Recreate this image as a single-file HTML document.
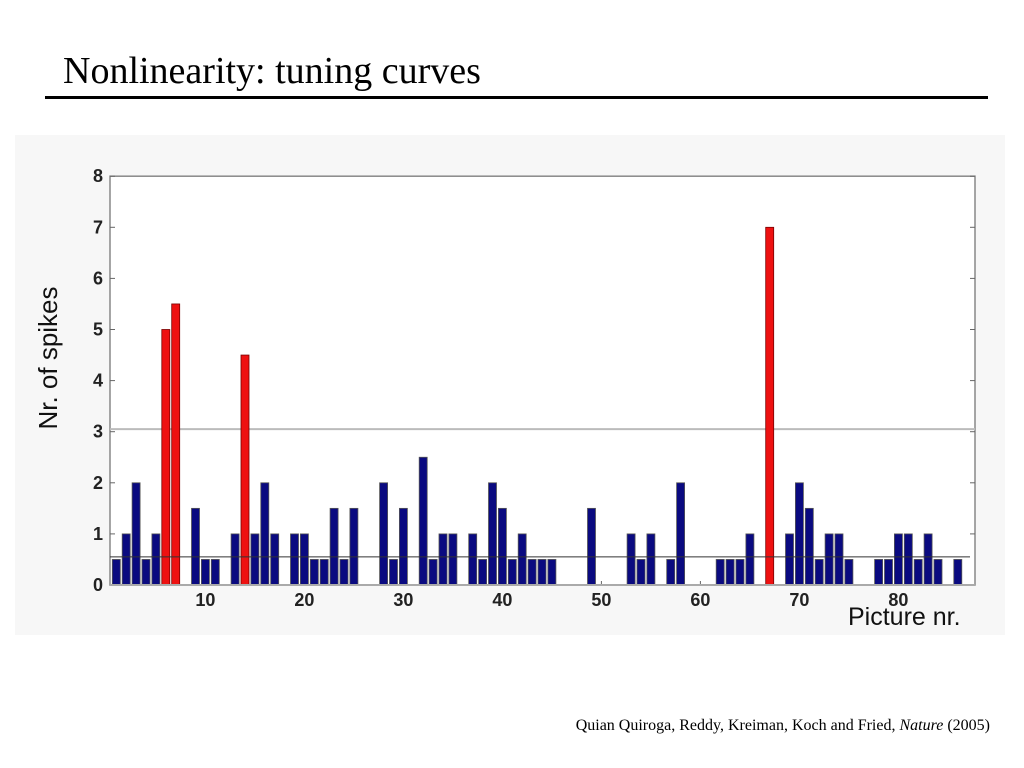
<!DOCTYPE html>
<html><head><meta charset="utf-8"><style>
body{margin:0;width:1024px;height:768px;background:#fff;overflow:hidden;position:relative;font-family:"Liberation Sans",sans-serif}
#title{position:absolute;left:63px;top:49px;font:38px "Liberation Serif",serif;color:#000}
#rule{position:absolute;left:45px;top:96px;width:943px;height:3px;background:#000}
#cite{position:absolute;right:34px;top:717px;font:16px "Liberation Serif",serif;color:#000}
</style></head><body>
<div id="title">Nonlinearity: tuning curves</div>
<div id="rule"></div>
<svg id="chart" width="1024" height="768" style="position:absolute;left:0;top:0"></svg>
<div id="cite">Quian Quiroga, Reddy, Kreiman, Koch and Fried, <i>Nature</i> (2005)</div>
<script>
const pictures=[1,2,3,4,5,6,7,9,10,11,13,14,15,16,17,19,20,21,22,23,24,25,28,29,30,32,33,34,35,37,38,39,40,41,42,43,44,45,49,53,54,55,57,58,62,63,64,65,67,69,70,71,72,73,74,75,78,79,80,81,82,83,84,86];
const spikes=[0.5,1,2,0.5,1,5,5.5,1.5,0.5,0.5,1,4.5,1,2,1,1,1,0.5,0.5,1.5,0.5,1.5,2,0.5,1.5,2.5,0.5,1,1,1,0.5,2,1.5,0.5,1,0.5,0.5,0.5,1.5,1,0.5,1,0.5,2,0.5,0.5,0.5,1,7,1,2,1.5,0.5,1,1,0.5,0.5,0.5,1,1,0.5,1,0.5,0.5];
const responsive=[6,7,14,67];
const yTicks=[0,1,2,3,4,5,6,7,8];
const xTicks=[10,20,30,40,50,60,70,80];
const threshold=3.05, meanLine=0.55;
const NS="http://www.w3.org/2000/svg", svg=document.getElementById('chart');
const X=v=>106.4+v*9.9, Y=v=>585-v*51.1;
function mk(t,a,p){const e=document.createElementNS(NS,t);for(const k in a)e.setAttribute(k,a[k]);(p||svg).appendChild(e);return e;}
const bg=mk('rect',{x:15,y:135,width:990,height:500,fill:'#f7f7f7'});


const plot=mk('rect',{x:110,y:Y(8),width:865,height:Y(0)-Y(8),fill:'#fff',stroke:'#888','stroke-width':1.5});


const th=mk('line',{x1:110,x2:975,y1:Y(threshold),y2:Y(threshold),stroke:'#bbb','stroke-width':2});


yTicks.forEach(t=>{
  mk('line',{x1:110,x2:115,y1:Y(t),y2:Y(t),stroke:'#666'});
  mk('line',{x1:970,x2:975,y1:Y(t),y2:Y(t),stroke:'#666'});
  const l=mk('text',{x:103,y:Y(t)+6,'text-anchor':'end','font-size':18,'font-weight':'bold',fill:'#222'});l.textContent=t;
  
  
});
xTicks.forEach(t=>{
  mk('line',{x1:X(t),x2:X(t),y1:Y(0),y2:Y(0)-4,stroke:'#666'});
  const l=mk('text',{x:X(t),y:606,'text-anchor':'middle','font-size':18,'font-weight':'bold',fill:'#222'});l.textContent=t;
  
  
});
pictures.forEach((p,i)=>{
  const red=responsive.includes(p);
  const b=mk('rect',{x:X(p)-4,y:Y(spikes[i]),width:8,height:Y(0)-Y(spikes[i]),fill:red?'#ee1111':'#0a0a80',stroke:red?'#700':'#555','stroke-width':0.8});
  
  
});
const ml=mk('line',{x1:110,x2:970,y1:Y(meanLine),y2:Y(meanLine),stroke:'#333','stroke-width':1});


mk('line',{x1:110,x2:975,y1:Y(0),y2:Y(0),stroke:'#aaa','stroke-width':2});
const yl=mk('text',{x:0,y:0,transform:'translate(57,358) rotate(-90)','text-anchor':'middle','font-size':26,fill:'#111'});yl.textContent='Nr. of spikes';


const xl=mk('text',{x:848,y:625,'font-size':25,fill:'#111'});xl.textContent='Picture nr.';


</script>
</body></html>
